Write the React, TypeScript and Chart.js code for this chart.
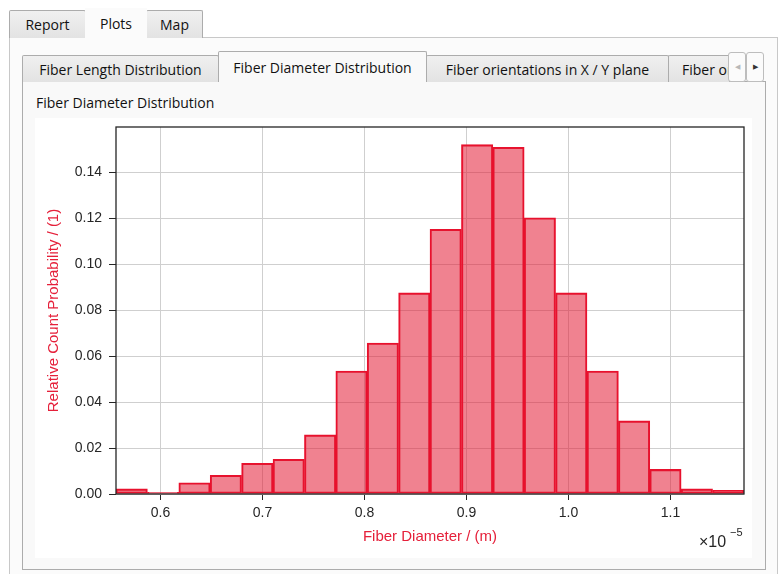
import React, { useEffect, useRef } from "react";
import { Chart, registerables } from "chart.js";

Chart.register(...registerables);

// Fiber diameter histogram, x in units of 1e-5 m
const binEdges = [
  0.5564, 0.5872, 0.618, 0.6487, 0.6795, 0.7103, 0.7411, 0.7719, 0.8026, 0.8334, 0.8642,
  0.895, 0.9258, 0.9565, 0.9873, 1.0181, 1.0489, 1.0796, 1.1104, 1.1412, 1.172,
];
const probabilities = [
  0.0022, 0.0007, 0.0049, 0.0081, 0.0134, 0.0151, 0.0257, 0.0535, 0.0657, 0.0875,
  0.1152, 0.152, 0.1509, 0.1202, 0.0875, 0.0535, 0.0318, 0.0107, 0.0022, 0.0016,
];
const xTickValues = [0.6, 0.7, 0.8, 0.9, 1.0, 1.1];
const yTickValues = [0, 0.02, 0.04, 0.06, 0.08, 0.1, 0.12, 0.14];
const xMin = 0.5564;
const xMax = 1.172;
const yMin = 0;
const yMax = 0.1597;

const outerTabs = ["Report", "Plots", "Map"];
const innerTabs = [
  "Fiber Length Distribution",
  "Fiber Diameter Distribution",
  "Fiber orientations in X / Y plane",
  "Fiber orientations in X / Z plane",
];

const RED = "#e5203a";
const CHART_FONT = '"Liberation Sans", Arial, sans-serif';
const UI_FONT = '"Open Sans", "Liberation Sans", sans-serif';

const framePlugin = {
  id: "frameAndOffset",
  afterDatasetsDraw(chart: any) {
    const { ctx, chartArea } = chart;
    const { left, top, right, bottom } = chartArea;
    ctx.save();
    ctx.strokeStyle = "#262626";
    ctx.lineWidth = 1.3;
    ctx.strokeRect(left, top, right - left, bottom - top);
    ctx.fillStyle = "#262626";
    ctx.textAlign = "left";
    ctx.textBaseline = "alphabetic";
    ctx.font = '16px "Liberation Sans", Arial, sans-serif';
    ctx.fillText("×10", 664, 429);
    ctx.font = '11px "Liberation Sans", Arial, sans-serif';
    ctx.fillText("−5", 695, 418);
    ctx.restore();
  },
};

function HistogramChart() {
  const ref = useRef<HTMLCanvasElement | null>(null);
  useEffect(() => {
    if (!ref.current) return;
    const points = probabilities.map((p, i) => ({
      x: (binEdges[i] + binEdges[i + 1]) / 2,
      y: p,
    }));
    const chart = new Chart(ref.current, {
      type: "bar",
      data: {
        datasets: [
          {
            data: points as any,
            backgroundColor: "rgba(228, 28, 52, 0.55)",
            borderColor: "#e8112d",
            borderWidth: 1.4,
            borderSkipped: false,
            barPercentage: 1,
            categoryPercentage: 1,
          },
        ],
      },
      options: {
        animation: false,
        responsive: true,
        maintainAspectRatio: false,
        layout: { padding: { top: 9, right: 8, left: 0, bottom: 0 } },
        plugins: {
          legend: { display: false },
          tooltip: { enabled: false },
        },
        scales: {
          x: {
            type: "linear",
            min: xMin,
            max: xMax,
            offset: false,
            grid: {
              offset: false,
              color: "#cfcfcf",
              lineWidth: 1,
              tickColor: "#262626",
              tickLength: 6,
            },
            border: { display: false },
            afterBuildTicks: (scale: any) => {
              scale.ticks = xTickValues.map((v) => ({ value: v }));
            },
            afterFit: (scale: any) => {
              scale.height = 64;
              scale.paddingLeft = 0;
              scale.paddingRight = 0;
            },
            ticks: {
              padding: 5,
              color: "#262626",
              font: { family: CHART_FONT, size: 14 },
              maxRotation: 0,
              autoSkip: false,
              callback: (v: any) => Number(v).toFixed(1),
            },
            title: {
              display: true,
              text: "Fiber Diameter / (m)",
              color: RED,
              font: { family: CHART_FONT, size: 15 },
              padding: { top: 0, bottom: 12 },
            },
          },
          y: {
            type: "linear",
            min: yMin,
            max: yMax,
            grid: {
              color: "#cfcfcf",
              lineWidth: 1,
              tickColor: "#262626",
              tickLength: 7,
            },
            border: { display: false },
            afterBuildTicks: (scale: any) => {
              scale.ticks = yTickValues.map((v) => ({ value: v }));
            },
            afterFit: (scale: any) => {
              scale.width = 81;
              scale.paddingTop = 0;
              scale.paddingBottom = 0;
            },
            ticks: {
              padding: 7,
              color: "#262626",
              font: { family: CHART_FONT, size: 14 },
              autoSkip: false,
              callback: (v: any) => Number(v).toFixed(2),
            },
            title: {
              display: true,
              text: "Relative Count Probability / (1)",
              color: RED,
              font: { family: CHART_FONT, size: 15 },
              padding: { top: 10, bottom: 0 },
            },
          },
        },
      },
      plugins: [framePlugin],
    });
    return () => chart.destroy();
  }, []);
  return <canvas ref={ref} />;
}

const tabBase: React.CSSProperties = {
  position: "absolute",
  boxSizing: "border-box",
  fontFamily: UI_FONT,
  fontSize: 14,
  color: "#111",
  display: "flex",
  alignItems: "center",
  justifyContent: "center",
  whiteSpace: "nowrap",
  overflow: "hidden",
};

const unselected: React.CSSProperties = {
  ...tabBase,
  background: "linear-gradient(#f0f0f0, #e3e3e3)",
  border: "1px solid #acacac",
  borderBottom: "none",
  borderRadius: "2px 2px 0 0",
};

const selected: React.CSSProperties = {
  ...tabBase,
  background: "#fafafa",
  border: "1px solid #acacac",
  borderBottom: "none",
  borderRadius: "2px 2px 0 0",
  zIndex: 2,
};

const scrollBtn: React.CSSProperties = {
  position: "absolute",
  top: 52,
  width: 18,
  height: 30,
  boxSizing: "border-box",
  border: "1px solid #bdbdbd",
  borderRadius: 3,
  background: "#fbfbfb",
  fontSize: 7,
  display: "flex",
  alignItems: "center",
  justifyContent: "center",
  zIndex: 3,
};

export default function App() {
  return (
    <div
      style={{
        position: "absolute",
        left: 0,
        top: 0,
        width: 779,
        height: 574,
        background: "#ffffff",
        overflow: "hidden",
      }}
    >
      {/* Outer pane */}
      <div
        style={{
          position: "absolute",
          left: 9,
          top: 37,
          width: 769,
          height: 560,
          boxSizing: "border-box",
          border: "1px solid #c8c8c8",
          background: "#fbfbfb",
        }}
      />
      {/* Outer tabs */}
      <div style={{ ...unselected, left: 9, top: 10, width: 77, height: 28 }}>{outerTabs[0]}</div>
      <div
        style={{
          ...tabBase,
          left: 85,
          top: 8,
          width: 62,
          height: 30,
          background: "#fbfbfb",
          zIndex: 2,
          paddingTop: 1,
        }}
      >
        {outerTabs[1]}
      </div>
      <div style={{ ...unselected, left: 146, top: 10, width: 57, height: 28 }}>{outerTabs[2]}</div>

      {/* Inner pane */}
      <div
        style={{
          position: "absolute",
          left: 22,
          top: 81,
          width: 744,
          height: 489,
          boxSizing: "border-box",
          border: "1px solid #acacac",
          background: "#f9f9f9",
        }}
      />
      {/* Inner tabs */}
      <div style={{ ...unselected, left: 22, top: 55, width: 197, height: 27 }}>{innerTabs[0]}</div>
      <div style={{ ...selected, left: 218, top: 51, width: 209, height: 31, background: "#f9f9f9" }}>
        {innerTabs[1]}
      </div>
      <div style={{ ...unselected, left: 426, top: 55, width: 243, height: 27 }}>{innerTabs[2]}</div>
      <div
        style={{
          ...unselected,
          left: 668,
          top: 55,
          width: 62,
          height: 27,
          justifyContent: "flex-start",
          paddingLeft: 13,
        }}
      >
        {innerTabs[3]}
      </div>
      {/* Scroll buttons */}
      <div style={{ ...scrollBtn, left: 728, color: "#b8b8b8" }}>◀</div>
      <div style={{ ...scrollBtn, left: 746, color: "#333" }}>▶</div>

      {/* Plot label */}
      <div
        style={{
          position: "absolute",
          left: 36,
          top: 93,
          fontFamily: UI_FONT,
          fontSize: 14,
          color: "#111",
          whiteSpace: "nowrap",
        }}
      >
        Fiber Diameter Distribution
      </div>

      {/* Chart area */}
      <div
        style={{
          position: "absolute",
          left: 35,
          top: 118,
          width: 717,
          height: 440,
          background: "#ffffff",
        }}
      >
        <HistogramChart />
      </div>
    </div>
  );
}
